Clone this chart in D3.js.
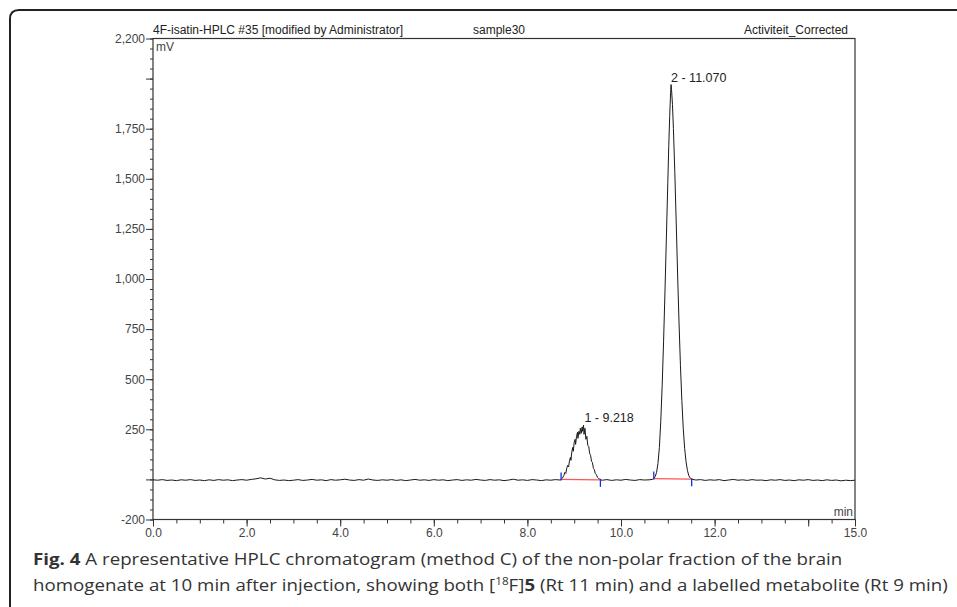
<!DOCTYPE html>
<meta charset="utf-8">
<style>
body { margin: 0; background: #fff; }
svg text { font-family: "Liberation Sans", Arial, sans-serif; }
.caption text { font-family: "Open Sans", sans-serif; }
</style>
<svg width="957" height="607"></svg>
<script src="https://cdn.jsdelivr.net/npm/d3@7/dist/d3.min.js"></script>
<script>
// chromatogram trace, [time in min, signal in mV]
var traceBefore = [
  [0.0,-2],[0.1,-4],[0.2,-1],[0.3,-5],[0.4,-3],[0.5,-6],[0.6,-2],[0.7,-4],[0.8,-1],[0.9,-5],
  [1.0,-3],[1.1,-6],[1.2,-2],[1.3,-5],[1.4,-1],[1.5,-4],[1.6,-2],[1.7,-6],[1.8,-3],[1.9,-1],
  [2.0,-4],[2.1,0],[2.2,3],[2.3,8],[2.4,2],[2.5,6],[2.6,-2],[2.7,-5],[2.8,-3],[2.9,-6],
  [3.0,-4],[3.1,-1],[3.2,-5],[3.3,-3],[3.4,0],[3.5,-4],[3.6,-2],[3.7,-6],[3.8,-1],[3.9,-4],
  [4.0,-2],[4.1,1],[4.2,-3],[4.3,-5],[4.4,-1],[4.5,-4],[4.6,2],[4.7,-3],[4.8,-5],[4.9,-2],
  [5.0,-4],[5.1,-1],[5.2,-5],[5.3,-2],[5.4,-6],[5.5,-3],[5.6,0],[5.7,-4],[5.8,-2],[5.9,-5],
  [6.0,-1],[6.1,-4],[6.2,-2],[6.3,-6],[6.4,-3],[6.5,-1],[6.6,-5],[6.7,-2],[6.8,-4],[6.9,0],
  [7.0,-3],[7.1,-5],[7.2,-1],[7.3,-4],[7.4,-2],[7.5,-6],[7.6,-3],[7.7,1],[7.8,-4],[7.9,-2],
  [8.0,-5],[8.1,-1],[8.2,-3],[8.3,-6],[8.4,-2],[8.5,-4],[8.6,-1],[8.7,-3]
];
var peak1 = [
  [8.72,0],[8.75,8],[8.78,20],[8.80,35],[8.82,30],[8.84,55],[8.86,70],[8.88,62],[8.90,95],
  [8.92,110],[8.93,95],[8.95,140],[8.97,160],[8.98,140],[9.00,185],[9.02,200],[9.03,175],
  [9.05,215],[9.07,235],[9.08,205],[9.10,240],[9.12,225],[9.13,255],[9.15,230],[9.17,262],
  [9.18,240],[9.20,270],[9.21,225],[9.23,255],[9.25,200],[9.27,215],[9.29,170],[9.31,165],
  [9.33,130],[9.35,120],[9.37,90],[9.39,85],[9.41,55],[9.43,50],[9.45,30],[9.47,25],
  [9.50,10],[9.53,3],[9.56,-2]
];
var traceBetween = [
  [9.6,-4],[9.7,-1],[9.8,-5],[9.9,-2],[10.0,-4],[10.1,0],[10.2,-3],[10.3,-5],[10.4,-1],
  [10.5,-3],[10.6,-2],[10.67,0]
];
var peak2 = [
  [10.70,4],[10.73,14],[10.76,35],[10.79,80],[10.82,160],[10.85,290],[10.88,470],[10.91,690],
  [10.94,940],[10.97,1210],[11.00,1480],[11.02,1660],[11.04,1810],[11.06,1930],[11.07,1970],
  [11.08,1945],[11.10,1870],[11.12,1750],[11.15,1530],[11.18,1280],[11.21,1020],[11.24,780],
  [11.27,570],[11.30,395],[11.33,255],[11.36,155],[11.39,88],[11.42,44],[11.45,18],[11.48,6],
  [11.51,1]
];
var traceAfter = [
  [11.6,-3],[11.7,-1],[11.8,-5],[11.9,-2],[12.0,-4],[12.1,-1],[12.2,-6],[12.3,-3],[12.4,0],
  [12.5,-4],[12.6,-2],[12.7,-5],[12.8,-1],[12.9,-4],[13.0,-3],[13.1,-6],[13.2,-2],[13.3,-4],
  [13.4,-1],[13.5,-5],[13.6,-3],[13.7,-6],[13.8,-2],[13.9,-4],[14.0,-1],[14.1,-5],[14.2,-3],
  [14.3,-6],[14.4,-2],[14.5,-5],[14.6,-3],[14.7,-7],[14.8,-4],[14.9,-6],[15.0,-4]
];

// integrated peaks: retention time, apex, integration start / end
var peakNames = ["1 - 9.218", "2 - 11.070"];
var peakRt = [9.218, 11.070];
var peakApex = [270, 1970];
var peakStart = [[8.72, 0], [10.70, 4]];
var peakEnd = [[9.56, -2], [11.51, 1]];

var xLabelTicks = [0, 2, 4, 6, 8, 10, 12, 15];
var xMajorTicks = [0, 2, 4, 6, 8, 10, 12, 14, 15];
var yLabelTicks = [-200, 250, 500, 750, 1000, 1250, 1500, 1750, 2200];
var yMajorTicks = [-200, 0, 250, 500, 750, 1000, 1250, 1500, 1750, 2000, 2200];

var titleLeft = "4F-isatin-HPLC #35 [modified by Administrator]",
    titleMid = "sample30",
    titleRight = "Activiteit_Corrected";

var svg = d3.select("svg");

// figure frame (rounded top-left corner, open to the right and bottom)
svg.append("path")
    .attr("d", "M10,607 L10,19 Q10,10 19,10 L957,10")
    .attr("fill", "none")
    .attr("stroke", "#222")
    .attr("stroke-width", 2);

var plotL = 153, plotR = 855, plotT = 38.5, plotB = 519.5;

var x = d3.scaleLinear().domain([0, 15]).range([plotL, plotR]);
var y = d3.scaleLinear().domain([-200, 2200]).range([plotB, plotT]);

var axisColor = "#333";
var thousands = d3.format(",");

// minor ticks
svg.append("g")
    .attr("transform", "translate(" + plotL + ",0)")
    .call(d3.axisLeft(y).tickValues(d3.range(-200, 2201, 50)).tickSize(3).tickFormat(""))
    .call(function(g) { g.select(".domain").remove(); g.selectAll("line").attr("stroke", axisColor); });

svg.append("g")
    .attr("transform", "translate(0," + plotB + ")")
    .call(d3.axisBottom(x).tickValues(d3.range(0, 15.01, 0.5)).tickSize(4).tickFormat(""))
    .call(function(g) { g.select(".domain").remove(); g.selectAll("line").attr("stroke", axisColor); });

// major ticks and labels
svg.append("g")
    .attr("transform", "translate(" + plotL + ",0)")
    .call(d3.axisLeft(y).tickValues(yMajorTicks).tickSize(7).tickPadding(1)
      .tickFormat(function(d) {
        return yLabelTicks.indexOf(d) >= 0 ? thousands(d).replace("\u2212", "-") : "";
      }))
    .call(function(g) {
      g.select(".domain").remove();
      g.selectAll("line").attr("stroke", axisColor);
      g.selectAll("text").attr("font-size", 12).attr("fill", "#444")
        .attr("font-family", "Liberation Sans, Arial, sans-serif");
    });

svg.append("g")
    .attr("transform", "translate(0," + plotB + ")")
    .call(d3.axisBottom(x).tickValues(xMajorTicks).tickSize(7).tickPadding(2)
      .tickFormat(function(d) { return xLabelTicks.indexOf(d) >= 0 ? d3.format(".1f")(d) : ""; }))
    .call(function(g) {
      g.select(".domain").remove();
      g.selectAll("line").attr("stroke", axisColor);
      g.selectAll("text").attr("font-size", 12).attr("fill", "#444")
        .attr("font-family", "Liberation Sans, Arial, sans-serif");
    });

// plot frame
svg.append("rect")
    .attr("x", plotL).attr("y", plotT)
    .attr("width", plotR - plotL).attr("height", plotB - plotT)
    .attr("fill", "none")
    .attr("stroke", axisColor)
    .attr("stroke-width", 1.2);

// header texts
svg.append("text").attr("x", plotL).attr("y", 34).attr("font-size", 12).attr("fill", "#222").text(titleLeft);
svg.append("text").attr("x", 473).attr("y", 34).attr("font-size", 12).attr("fill", "#222").text(titleMid);
svg.append("text").attr("x", 848).attr("y", 34).attr("font-size", 12).attr("fill", "#222")
    .attr("text-anchor", "end").text(titleRight);

svg.append("text").attr("x", plotL + 3).attr("y", 51).attr("font-size", 12).attr("fill", "#444").text("mV");
svg.append("text").attr("x", plotR - 2).attr("y", plotB - 4).attr("font-size", 12).attr("fill", "#444")
    .attr("text-anchor", "end").text("min");

// trace
var trace = [].concat(traceBefore, peak1, traceBetween, peak2, traceAfter);
var line = d3.line().x(function(d) { return x(d[0]); }).y(function(d) { return y(d[1]); });

svg.append("path")
    .datum(trace)
    .attr("d", line)
    .attr("fill", "none")
    .attr("stroke", "#1a1a1a")
    .attr("stroke-width", 1)
    .attr("stroke-linejoin", "round");

// integration baselines and delimiters
peakStart.forEach(function(s, i) {
  var e = peakEnd[i];
  svg.append("line")
      .attr("x1", x(s[0])).attr("y1", y(s[1]))
      .attr("x2", x(e[0])).attr("y2", y(e[1]))
      .attr("stroke", "#f55").attr("stroke-width", 1.2);
  svg.append("line")
      .attr("x1", x(s[0])).attr("y1", y(s[1]) + 1)
      .attr("x2", x(s[0])).attr("y2", y(s[1]) - 7)
      .attr("stroke", "#1030e0").attr("stroke-width", 1.3);
  svg.append("line")
      .attr("x1", x(e[0])).attr("y1", y(e[1]) - 1)
      .attr("x2", x(e[0])).attr("y2", y(e[1]) + 7)
      .attr("stroke", "#1030e0").attr("stroke-width", 1.3);
});

// peak labels
peakNames.forEach(function(name, i) {
  svg.append("text")
      .attr("x", x(peakRt[i]))
      .attr("y", y(peakApex[i]) - 3)
      .attr("font-size", 12.5)
      .attr("fill", "#222")
      .text(name);
});

// caption
var cap = svg.append("g").attr("class", "caption").attr("fill", "#333");
var line1 = cap.append("text").attr("x", 33).attr("y", 565).attr("font-size", 16);
line1.append("tspan").attr("font-weight", "bold").text("Fig. 4");
line1.append("tspan").text(" A representative HPLC chromatogram (method C) of the non-polar fraction of the brain");

var line2 = cap.append("text").attr("x", 33).attr("y", 591).attr("font-size", 16);
line2.append("tspan").text("homogenate at 10 min after injection, showing both [");
line2.append("tspan").attr("font-size", 10).attr("dy", -6).text("18");
line2.append("tspan").attr("dy", 6).text("F]");
line2.append("tspan").attr("font-weight", "bold").text("5");
line2.append("tspan").text(" (Rt 11 min) and a labelled metabolite (Rt 9 min)");

// fit the caption width to the figure
var w2 = line2.node().getComputedTextLength();
var k = 915 / w2;
[line1, line2].forEach(function(t) {
  t.attr("transform", "translate(33,0) scale(" + k + ",1) translate(-33,0)");
});
</script>
